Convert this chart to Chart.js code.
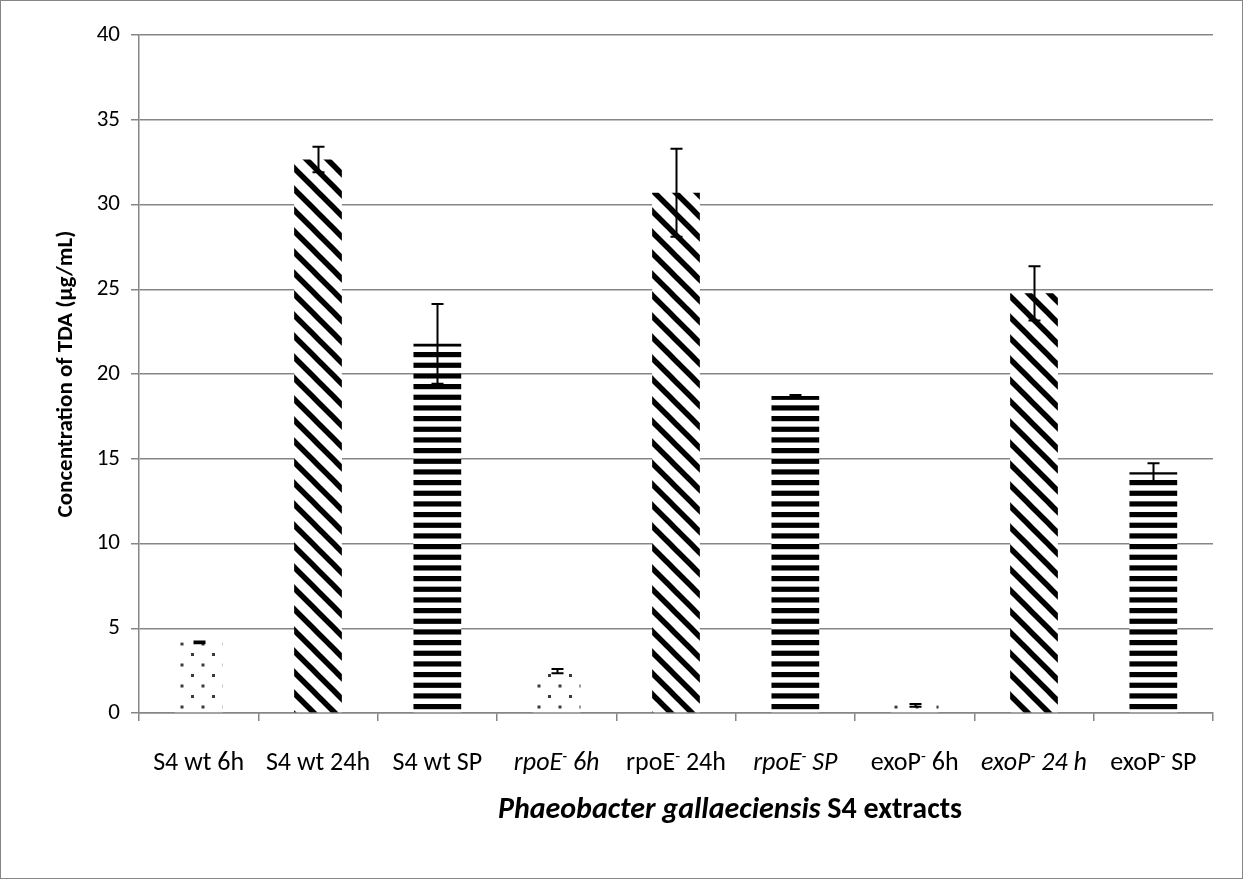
<!DOCTYPE html>
<html>
<head>
<meta charset="utf-8">
<script src="https://cdn.jsdelivr.net/npm/chart.js@4.4.1/dist/chart.umd.min.js"></script>
<style>
  html, body { margin: 0; padding: 0; background: #ffffff; }
  #wrap { width: 1243px; height: 879px; position: relative; }
</style>
</head>
<body>
<div id="wrap"><canvas id="chart"></canvas></div>
<script>
// Sample names; the part before "⁻" is the gene, "⁻" is drawn as a superscript.
const categories = ['S4 wt 6h', 'S4 wt 24h', 'S4 wt SP', 'rpoE⁻ 6h', 'rpoE⁻ 24h', 'rpoE⁻ SP', 'exoP⁻ 6h', 'exoP⁻ 24 h', 'exoP⁻ SP'];
const italicLabels = [false, false, false, true, false, true, false, true, false];
// TDA concentration (µg/mL) and standard deviation per sample
const concentrations = [4.17, 32.65, 21.78, 2.47, 30.69, 18.70, 0.45, 24.76, 14.20];
const deviations = [0.05, 0.75, 2.35, 0.12, 2.60, 0.06, 0.08, 1.60, 0.53];
// Fill style per sample: 6h = dots, 24h = diagonal stripes, SP = horizontal stripes
const fillKinds = ['dots', 'diag', 'horiz', 'dots', 'diag', 'horiz', 'dots', 'diag', 'horiz'];
const yMin = 0, yMax = 40, yStep = 5;
const yTitle = 'Concentration of TDA (µg/mL)';
const xTitleItalic = 'Phaeobacter gallaeciensis';
const xTitleRest = ' S4 extracts';

const FONT = 'Carlito, Lato, "Open Sans", sans-serif';
const GRID = '#868686';

function makeTile(w, h, draw) {
  const c = document.createElement('canvas');
  c.width = w; c.height = h;
  const g = c.getContext('2d');
  g.fillStyle = '#ffffff';
  g.fillRect(0, 0, w, h);
  draw(g, w, h);
  return document.createElement('canvas').getContext('2d').createPattern(c, 'repeat');
}

const patterns = {
  diag: makeTile(21, 21, (g, w, h) => {
    g.strokeStyle = '#000000';
    g.lineWidth = 5.5;
    for (let k = -1; k <= 1; k++) {
      g.beginPath();
      g.moveTo(k * w - 2, -2);
      g.lineTo(k * w + w + 2, h + 2);
      g.stroke();
    }
  }),
  horiz: makeTile(8, 32, (g, w, h) => {
    g.fillStyle = '#000000';
    for (let k = 0; k < 3; k++) g.fillRect(0, k * h / 3, w, 5.2);
  }),
  dots: makeTile(21, 21, (g) => {
    g.fillStyle = '#3a3a3a';
    g.fillRect(2, 2, 3, 3);
    g.fillRect(12.5, 12.5, 3, 3);
  })
};

// Error bars drawn from the same values through the y scale
const errorBars = {
  id: 'errorBars',
  afterDatasetsDraw(chart) {
    const ctx = chart.ctx, y = chart.scales.y;
    const meta = chart.getDatasetMeta(0);
    ctx.save();
    ctx.strokeStyle = '#000000';
    ctx.lineWidth = 2;
    meta.data.forEach((bar, i) => {
      const x = Math.round(bar.x) + 0.5;
      const top = y.getPixelForValue(concentrations[i] + deviations[i]);
      const bot = y.getPixelForValue(concentrations[i] - deviations[i]);
      ctx.beginPath();
      ctx.moveTo(x, top); ctx.lineTo(x, bot);
      ctx.moveTo(x - 6, top); ctx.lineTo(x + 6, top);
      ctx.moveTo(x - 6, bot); ctx.lineTo(x + 6, bot);
      ctx.stroke();
    });
    ctx.restore();
  }
};

// Category labels with italic gene names and superscript minus, plus x-axis title
const richLabels = {
  id: 'richLabels',
  afterDraw(chart) {
    const ctx = chart.ctx, xs = chart.scales.x;
    const size = 26;
    const labelY = chart.chartArea.bottom + 57;
    ctx.save();
    ctx.fillStyle = '#000000';
    ctx.textBaseline = 'alphabetic';
    ctx.textAlign = 'left';
    categories.forEach((label, i) => {
      const it = italicLabels[i] ? 'italic ' : '';
      const parts = label.split('⁻');
      const segs = [{ t: parts[0], f: it + size + 'px ' + FONT, dy: 0 }];
      if (parts.length > 1) {
        segs.push({ t: '-', f: it + Math.round(size * 0.62) + 'px ' + FONT, dy: -9 });
        segs.push({ t: parts[1], f: it + size + 'px ' + FONT, dy: 0 });
      }
      let total = 0;
      segs.forEach(s => { ctx.font = s.f; s.w = ctx.measureText(s.t).width; total += s.w; });
      let x = xs.getPixelForValue(i) - total / 2;
      segs.forEach(s => { ctx.font = s.f; ctx.fillText(s.t, x, labelY + s.dy); x += s.w; });
    });

    // axis title
    const tSize = 30;
    const f1 = 'italic bold ' + tSize + 'px ' + FONT;
    const f2 = 'bold ' + tSize + 'px ' + FONT;
    ctx.font = f1; const w1 = ctx.measureText(xTitleItalic).width;
    ctx.font = f2; const w2 = ctx.measureText(xTitleRest).width;
    let tx = 730 - (w1 + w2) / 2;
    const ty = chart.chartArea.bottom + 105;
    ctx.font = f1; ctx.fillText(xTitleItalic, tx, ty);
    ctx.font = f2; ctx.fillText(xTitleRest, tx + w1, ty);

    // outer frame
    ctx.strokeStyle = GRID;
    ctx.lineWidth = 1;
    ctx.strokeRect(0.5, 0.5, chart.width - 1, chart.height - 1);
    ctx.restore();
  }
};

new Chart(document.getElementById('chart'), {
  type: 'bar',
  data: {
    labels: categories,
    datasets: [{
      data: concentrations,
      backgroundColor: fillKinds.map(k => patterns[k]),
      borderWidth: 0,
      barPercentage: 0.8,
      categoryPercentage: 0.5
    }]
  },
  options: {
    responsive: true,
    maintainAspectRatio: false,
    animation: false,
    devicePixelRatio: 1,
    layout: { padding: { left: 50, right: 30, top: 35, bottom: 0 } },
    plugins: { legend: { display: false }, tooltip: { enabled: false } },
    scales: {
      x: {
        grid: { display: true, drawOnChartArea: false, drawTicks: true, tickLength: 8, color: GRID, lineWidth: 1.5, offset: true },
        border: { display: true, color: GRID, width: 1.5 },
        ticks: { display: false },
        afterFit(scale) { scale.height = 166; }
      },
      y: {
        min: yMin, max: yMax,
        ticks: { stepSize: yStep, color: '#000000', padding: 11, font: { family: FONT, size: 23 } },
        grid: { color: GRID, lineWidth: 1.5, tickLength: 8 },
        border: { display: true, color: GRID, width: 1.5 },
        title: { display: true, text: yTitle, color: '#000000', font: { family: FONT, size: 23, weight: 'bold' }, padding: 2 },
        afterFit(scale) { scale.width = 89; }
      }
    }
  },
  plugins: [errorBars, richLabels]
});
</script>
</body>
</html>
